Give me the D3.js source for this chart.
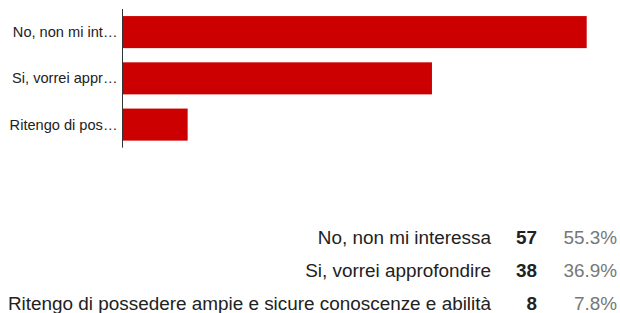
<!DOCTYPE html>
<html>
<head>
<meta charset="utf-8">
<script src="https://cdn.jsdelivr.net/npm/d3@7"></script>
<style>
  body { margin: 0; background: #fff; }
  text { font-family: "Liberation Sans", sans-serif; }
</style>
</head>
<body>
<script>
const width = 620;
const height = 313;

// risposte e conteggi
const labels = [
    "No, non mi interessa",
    "Si, vorrei approfondire",
    "Ritengo di possedere ampie e sicure conoscenze e abilità"
];
const shortLabels = ["No, non mi int…", "Si, vorrei appr…", "Ritengo di pos…"];
const counts = [57, 38, 8];
const percents = ["55.3%", "36.9%", "7.8%"];

const svg = d3.select("body")
    .append("svg")
    .attr("width", width)
    .attr("height", height);

const x = d3.scaleLinear()
    .domain([0, 57])
    .range([122.5, 586.7]);

const y = d3.scaleBand()
    .domain(labels)
    .range([9, 147.7])
    .paddingInner(0.307)
    .paddingOuter(0.153);

svg.selectAll("rect.bar")
    .data(labels)
    .join("rect")
    .attr("class", "bar")
    .attr("x", x(0))
    .attr("y", d => y(d))
    .attr("width", (d, i) => x(counts[i]) - x(0))
    .attr("height", y.bandwidth())
    .attr("fill", "#cc0000");

// asse verticale
svg.append("line")
    .attr("x1", x(0)).attr("x2", x(0))
    .attr("y1", y.range()[0]).attr("y2", y.range()[1])
    .attr("stroke", "#333")
    .attr("stroke-width", 1);

svg.selectAll("text.cat")
    .data(labels)
    .join("text")
    .attr("class", "cat")
    .attr("x", x(0) - 5)
    .attr("y", d => y(d) + y.bandwidth() / 2)
    .attr("dy", "0.35em")
    .attr("text-anchor", "end")
    .attr("font-size", 14.6)
    .attr("fill", "#222")
    .text((d, i) => shortLabels[i]);

// tabella riepilogo
const rowY = d3.scalePoint()
    .domain(labels)
    .range([237.7, 303]);

const rows = svg.selectAll("g.row")
    .data(labels)
    .join("g")
    .attr("class", "row")
    .attr("transform", d => `translate(0,${rowY(d)})`);

rows.append("text")
    .attr("x", 491)
    .attr("dy", "0.35em")
    .attr("text-anchor", "end")
    .attr("font-size", 18.9)
    .attr("fill", "#222")
    .text(d => d);

rows.append("text")
    .attr("x", 537)
    .attr("dy", "0.35em")
    .attr("text-anchor", "end")
    .attr("font-size", 18.9)
    .attr("font-weight", "bold")
    .attr("fill", "#222")
    .text((d, i) => counts[i]);

rows.append("text")
    .attr("x", 617)
    .attr("dy", "0.35em")
    .attr("text-anchor", "end")
    .attr("font-size", 18.9)
    .attr("fill", "#777")
    .text((d, i) => percents[i]);
</script>
</body>
</html>
